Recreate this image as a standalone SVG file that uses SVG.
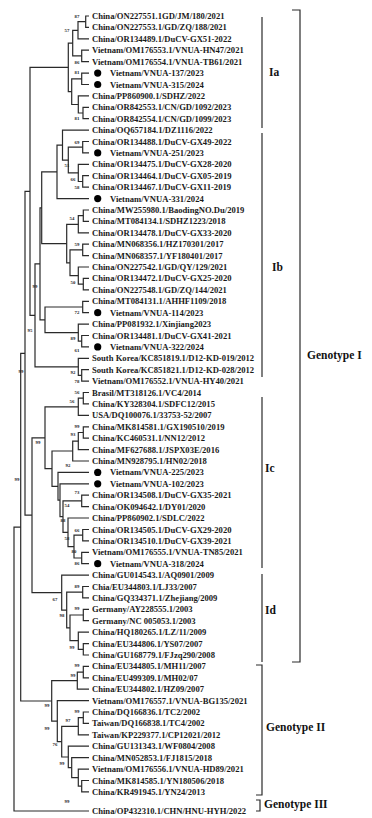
<svg xmlns="http://www.w3.org/2000/svg" width="372" height="818" viewBox="0 0 372 818">
<style>
.lf{font-family:"Liberation Serif","Times New Roman",serif;font-weight:bold;font-size:8.6px;fill:#1a1a1a}
.bs{font-family:"Liberation Serif","Times New Roman",serif;font-weight:bold;font-size:4.8px;fill:#222;text-anchor:middle}
.gl{font-family:"Liberation Serif","Times New Roman",serif;font-weight:bold;font-size:11.5px;fill:#111}
.br path,.cn path{fill:none;stroke:#2a2a2a;stroke-width:1.2}
.dot{fill:#000}
</style>
<rect width="372" height="818" fill="#fff"/>
<g id="connectors" class="cn">
<path d="M89 16H85.7V27.4H89"/>
<path d="M85.7 21.7H78V38.8H89"/>
<path d="M89 50.2H81.7V61.6H89"/>
<path d="M78 30.3H72.7V55.9H81.7"/>
<path d="M89 73.1H81.7V84.5H89"/>
<path d="M89 107.3H83V118.7H89"/>
<path d="M89 95.9H78.3V113H83"/>
<path d="M81.7 78.8H71.7V104.5H78.3"/>
<path d="M72.7 43.1H68.3V91.7H71.7"/>
<path d="M89 141.5H82.7V152.9H89"/>
<path d="M89 175.7H82.7V187.2H89"/>
<path d="M89 164.3H78.3V181.5H82.7"/>
<path d="M82.7 147.2H68.3V172.9H78.3"/>
<path d="M89 130.1H62.5V160.1H68.3"/>
<path d="M62.5 145.1H57V198.6H89"/>
<path d="M89 210H83.3V221.4H89"/>
<path d="M83.3 215.7H78.3V232.8H89"/>
<path d="M89 244.2H82.7V255.6H89"/>
<path d="M89 278.4H83.3V289.8H89"/>
<path d="M89 267H78.3V284.1H83.3"/>
<path d="M82.7 249.9H70V275.6H78.3"/>
<path d="M78.3 224.3H66.7V262.8H70"/>
<path d="M89 301.3H82.7V312.7H89"/>
<path d="M89 335.5H81.7V346.9H89"/>
<path d="M89 324.1H78.3V341.2H81.7"/>
<path d="M89 369.7H81.7V381.1H89"/>
<path d="M89 358.3H78.3V375.4H81.7"/>
<path d="M57 171.9H41.7V243.6H66.7"/>
<path d="M82.7 307H45V332.7H78.3"/>
<path d="M41.7 207.8H40V319.9H45"/>
<path d="M40 263.9H35V366.9H78.3"/>
<path d="M68.3 67.4H30V315.4H35"/>
<path d="M89 392.5H83.3V403.9H89"/>
<path d="M83.3 398.2H78.3V415.4H89"/>
<path d="M89 426.8H83.3V438.2H89"/>
<path d="M83.3 432.5H78.3V449.6H89"/>
<path d="M78.3 441.1H72.7V461H89"/>
<path d="M89 495.2H81.7V506.6H89"/>
<path d="M89 529.5H82.7V540.9H89"/>
<path d="M89 552.3H81.7V563.7H89"/>
<path d="M82.7 535.2H74V558H81.7"/>
<path d="M89 518H68V546.6H74"/>
<path d="M81.7 500.9H63V532.3H68"/>
<path d="M89 483.8H60V516.6H63"/>
<path d="M89 472.4H58V500.2H60"/>
<path d="M72.7 451H52V486.3H58"/>
<path d="M78.3 406.8H45V468.7H52"/>
<path d="M89 586.5H82.7V597.9H89"/>
<path d="M89 609.3H83.3V620.7H89"/>
<path d="M89 643.6H83.3V655H89"/>
<path d="M89 632.1H78.3V649.3H83.3"/>
<path d="M83.3 615H70V640.7H78.3"/>
<path d="M82.7 592.2H66.7V627.9H70"/>
<path d="M89 575.1H61.7V610.1H66.7"/>
<path d="M45 437.8H32V592.6H61.7"/>
<path d="M30 191.4H25V515.2H32"/>
<path d="M25 353.3H20.7V701H51.7"/>
<path d="M20.7 527.1H14V811H89"/>
<path d="M89 666.4H83.3V677.8H89"/>
<path d="M83.3 672.1H77.3V689.2H89"/>
<path d="M89 712H83.3V723.4H89"/>
<path d="M83.3 717.7H78.3V734.8H89"/>
<path d="M89 780.5H81.7V791.9H89"/>
<path d="M89 769.1H78.3V786.2H81.7"/>
<path d="M89 757.7H71.7V777.7H78.3"/>
<path d="M89 746.2H68.3V767.7H71.7"/>
<path d="M78.3 726.3H61.7V757H68.3"/>
<path d="M89 700.6H57.3V741.7H61.7"/>
<path d="M77.3 680.7H51.7V721.2H57.3"/>
</g>
<g id="bootstrap">
<text class="bs" x="77" y="18">87</text>
<text class="bs" x="67" y="32">57</text>
<text class="bs" x="77" y="64">86</text>
<text class="bs" x="77" y="74">81</text>
<text class="bs" x="77" y="120">81</text>
<text class="bs" x="77" y="144">69</text>
<text class="bs" x="67" y="167">51</text>
<text class="bs" x="73" y="181">66</text>
<text class="bs" x="77" y="189">58</text>
<text class="bs" x="72" y="220">54</text>
<text class="bs" x="77" y="246">59</text>
<text class="bs" x="73" y="284">50</text>
<text class="bs" x="35" y="288">99</text>
<text class="bs" x="77" y="314">72</text>
<text class="bs" x="30" y="332">95</text>
<text class="bs" x="73" y="340">89</text>
<text class="bs" x="77" y="352">61</text>
<text class="bs" x="21" y="373">99</text>
<text class="bs" x="73" y="374">92</text>
<text class="bs" x="77" y="383">78</text>
<text class="bs" x="77" y="394">56</text>
<text class="bs" x="72" y="403">56</text>
<text class="bs" x="77" y="428">99</text>
<text class="bs" x="73" y="436">93</text>
<text class="bs" x="38" y="444">99</text>
<text class="bs" x="68" y="467">92</text>
<text class="bs" x="17" y="481">99</text>
<text class="bs" x="77" y="494">73</text>
<text class="bs" x="67" y="507">54</text>
<text class="bs" x="63" y="522">88</text>
<text class="bs" x="77" y="532">66</text>
<text class="bs" x="67" y="540">58</text>
<text class="bs" x="74" y="553">80</text>
<text class="bs" x="77" y="565">86</text>
<text class="bs" x="77" y="588">89</text>
<text class="bs" x="55" y="601">67</text>
<text class="bs" x="77" y="610">99</text>
<text class="bs" x="62" y="617">98</text>
<text class="bs" x="72" y="649">99</text>
<text class="bs" x="77" y="667">99</text>
<text class="bs" x="73" y="677">99</text>
<text class="bs" x="47" y="707">99</text>
<text class="bs" x="77" y="713">99</text>
<text class="bs" x="68" y="722">97</text>
<text class="bs" x="47" y="730">99</text>
<text class="bs" x="55" y="746">76</text>
<text class="bs" x="62" y="765">99</text>
<text class="bs" x="67" y="803">99</text>
</g>
<g id="leaf1"><text class="lf" x="92" y="19">China/ON227551.1GD/JM/180/2021</text></g>
<g id="leaf2"><text class="lf" x="92" y="30.4">China/ON227553.1/GD/ZQ/188/2021</text></g>
<g id="leaf3"><text class="lf" x="92" y="41.8">China/OR134489.1/DuCV-GX51-2022</text></g>
<g id="leaf4"><text class="lf" x="92" y="53.2">Vietnam/OM176553.1/VNUA-HN47/2021</text></g>
<g id="leaf5"><text class="lf" x="92" y="64.6">Vietnam/OM176554.1/VNUA-TB61/2021</text></g>
<g id="leaf6"><circle class="dot" cx="97.7" cy="73.1" r="3.6"/><text class="lf" x="110" y="76.1">Vietnam/VNUA-137/2023</text></g>
<g id="leaf7"><circle class="dot" cx="97.7" cy="84.5" r="3.6"/><text class="lf" x="110" y="87.5">Vietnam/VNUA-315/2024</text></g>
<g id="leaf8"><text class="lf" x="92" y="98.9">China/PP860900.1/SDHZ/2022</text></g>
<g id="leaf9"><text class="lf" x="92" y="110.3">China/OR842553.1/CN/GD/1092/2023</text></g>
<g id="leaf10"><text class="lf" x="92" y="121.7">China/OR842554.1/CN/GD/1099/2023</text></g>
<g id="leaf11"><text class="lf" x="92" y="133.1">China/OQ657184.1/DZ1116/2022</text></g>
<g id="leaf12"><text class="lf" x="92" y="144.5">China/OR134488.1/DuCV-GX49-2022</text></g>
<g id="leaf13"><circle class="dot" cx="97.7" cy="152.9" r="3.6"/><text class="lf" x="110" y="155.9">Vietnam/VNUA-251/2023</text></g>
<g id="leaf14"><text class="lf" x="92" y="167.3">China/OR134475.1/DuCV-GX28-2020</text></g>
<g id="leaf15"><text class="lf" x="92" y="178.7">China/OR134464.1/DuCV-GX05-2019</text></g>
<g id="leaf16"><text class="lf" x="92" y="190.2">China/OR134467.1/DuCV-GX11-2019</text></g>
<g id="leaf17"><circle class="dot" cx="97.7" cy="198.6" r="3.6"/><text class="lf" x="110" y="201.6">Vietnam/VNUA-331/2024</text></g>
<g id="leaf18"><text class="lf" x="92" y="213">China/MW255980.1/BaodingNO.Du/2019</text></g>
<g id="leaf19"><text class="lf" x="92" y="224.4">China/MT084134.1/SDHZ1223/2018</text></g>
<g id="leaf20"><text class="lf" x="92" y="235.8">China/OR134478.1/DuCV-GX33-2020</text></g>
<g id="leaf21"><text class="lf" x="92" y="247.2">China/MN068356.1/HZ170301/2017</text></g>
<g id="leaf22"><text class="lf" x="92" y="258.6">China/MN068357.1/YF180401/2017</text></g>
<g id="leaf23"><text class="lf" x="92" y="270">China/ON227542.1/GD/QY/129/2021</text></g>
<g id="leaf24"><text class="lf" x="92" y="281.4">China/OR134472.1/DuCV-GX25-2020</text></g>
<g id="leaf25"><text class="lf" x="92" y="292.8">China/ON227548.1/GD/ZQ/144/2021</text></g>
<g id="leaf26"><text class="lf" x="92" y="304.3">China/MT084131.1/AHHF1109/2018</text></g>
<g id="leaf27"><circle class="dot" cx="97.7" cy="312.7" r="3.6"/><text class="lf" x="110" y="315.7">Vietnam/VNUA-114/2023</text></g>
<g id="leaf28"><text class="lf" x="92" y="327.1">China/PP081932.1/Xinjiang2023</text></g>
<g id="leaf29"><text class="lf" x="92" y="338.5">China/OR134481.1/DuCV-GX41-2021</text></g>
<g id="leaf30"><circle class="dot" cx="97.7" cy="346.9" r="3.6"/><text class="lf" x="110" y="349.9">Vietnam/VNUA-322/2024</text></g>
<g id="leaf31"><text class="lf" x="92" y="361.3">South Korea/KC851819.1/D12-KD-019/2012</text></g>
<g id="leaf32"><text class="lf" x="92" y="372.7">South Korea/KC851821.1/D12-KD-028/2012</text></g>
<g id="leaf33"><text class="lf" x="92" y="384.1">Vietnam/OM176552.1/VNUA-HY40/2021</text></g>
<g id="leaf34"><text class="lf" x="92" y="395.5">Brasil/MT318126.1/VC4/2014</text></g>
<g id="leaf35"><text class="lf" x="92" y="406.9">China/KY328304.1/SDFC12/2015</text></g>
<g id="leaf36"><text class="lf" x="92" y="418.4">USA/DQ100076.1/33753-52/2007</text></g>
<g id="leaf37"><text class="lf" x="92" y="429.8">China/MK814581.1/GX190510/2019</text></g>
<g id="leaf38"><text class="lf" x="92" y="441.2">China/KC460531.1/NN12/2012</text></g>
<g id="leaf39"><text class="lf" x="92" y="452.6">China/MF627688.1/JSPX03E/2016</text></g>
<g id="leaf40"><text class="lf" x="92" y="464">China/MN928795.1/HN02/2018</text></g>
<g id="leaf41"><circle class="dot" cx="97.7" cy="472.4" r="3.6"/><text class="lf" x="110" y="475.4">Vietnam/VNUA-225/2023</text></g>
<g id="leaf42"><circle class="dot" cx="97.7" cy="483.8" r="3.6"/><text class="lf" x="110" y="486.8">Vietnam/VNUA-102/2023</text></g>
<g id="leaf43"><text class="lf" x="92" y="498.2">China/OR134508.1/DuCV-GX35-2021</text></g>
<g id="leaf44"><text class="lf" x="92" y="509.6">China/OK094642.1/DY01/2020</text></g>
<g id="leaf45"><text class="lf" x="92" y="521">China/PP860902.1/SDLC/2022</text></g>
<g id="leaf46"><text class="lf" x="92" y="532.5">China/OR134505.1/DuCV-GX29-2020</text></g>
<g id="leaf47"><text class="lf" x="92" y="543.9">China/OR134510.1/DuCV-GX39-2021</text></g>
<g id="leaf48"><text class="lf" x="92" y="555.3">Vietnam/OM176555.1/VNUA-TN85/2021</text></g>
<g id="leaf49"><circle class="dot" cx="97.7" cy="563.7" r="3.6"/><text class="lf" x="110" y="566.7">Vietnam/VNUA-318/2024</text></g>
<g id="leaf50"><text class="lf" x="92" y="578.1">China/GU014543.1/AQ0901/2009</text></g>
<g id="leaf51"><text class="lf" x="92" y="589.5">Chia/EU344803.1/LJ33/2007</text></g>
<g id="leaf52"><text class="lf" x="92" y="600.9">China/GQ334371.1/Zhejiang/2009</text></g>
<g id="leaf53"><text class="lf" x="92" y="612.3">Germany/AY228555.1/2003</text></g>
<g id="leaf54"><text class="lf" x="92" y="623.7">Germany/NC 005053.1/2003</text></g>
<g id="leaf55"><text class="lf" x="92" y="635.1">China/HQ180265.1/LZ/11/2009</text></g>
<g id="leaf56"><text class="lf" x="92" y="646.6">China/EU344806.1/YS07/2007</text></g>
<g id="leaf57"><text class="lf" x="92" y="658">China/GU168779.1/FJzq290/2008</text></g>
<g id="leaf58"><text class="lf" x="92" y="669.4">China/EU344805.1/MH11/2007</text></g>
<g id="leaf59"><text class="lf" x="92" y="680.8">China/EU499309.1/MH02/07</text></g>
<g id="leaf60"><text class="lf" x="92" y="692.2">China/EU344802.1/HZ09/2007</text></g>
<g id="leaf61"><text class="lf" x="92" y="703.6">Vietnam/OM176557.1/VNUA-BG135/2021</text></g>
<g id="leaf62"><text class="lf" x="92" y="715">China/DQ166836.1/TC2/2002</text></g>
<g id="leaf63"><text class="lf" x="92" y="726.4">Taiwan/DQ166838.1/TC4/2002</text></g>
<g id="leaf64"><text class="lf" x="92" y="737.8">Taiwan/KP229377.1/CP12021/2012</text></g>
<g id="leaf65"><text class="lf" x="92" y="749.2">China/GU131343.1/WF0804/2008</text></g>
<g id="leaf66"><text class="lf" x="92" y="760.7">China/MN052853.1/FJ1815/2018</text></g>
<g id="leaf67"><text class="lf" x="92" y="772.1">Vietnam/OM176556.1/VNUA-HD89/2021</text></g>
<g id="leaf68"><text class="lf" x="92" y="783.5">China/MK814585.1/YN180506/2018</text></g>
<g id="leaf69"><text class="lf" x="92" y="794.9">China/KR491945.1/YN24/2013</text></g>
<g id="leaf70"><text class="lf" x="92" y="814">China/OP432310.1/CHN/HNU-HYH/2022</text></g>
<g id="brackets" class="br">
<path d="M262 17V128"/>
<path d="M262 133V377"/>
<path d="M262 397V568"/>
<path d="M262 574V662"/>
<path d="M292 10H300V662H292"/>
<path d="M256 665H262V795H256"/>
<path d="M256 800H260V811H256"/>
</g>
<g id="clade-Ia"><text class="gl" x="269" y="76">Ia</text></g>
<g id="clade-Ib"><text class="gl" x="272" y="271">Ib</text></g>
<g id="clade-Ic"><text class="gl" x="265" y="472">Ic</text></g>
<g id="clade-Id"><text class="gl" x="265" y="614">Id</text></g>
<g id="genotype-I"><text class="gl" x="307" y="359">Genotype I</text></g>
<g id="genotype-II"><text class="gl" x="266" y="731">Genotype II</text></g>
<g id="genotype-III"><text class="gl" x="264" y="808">Genotype III</text></g>
</svg>
